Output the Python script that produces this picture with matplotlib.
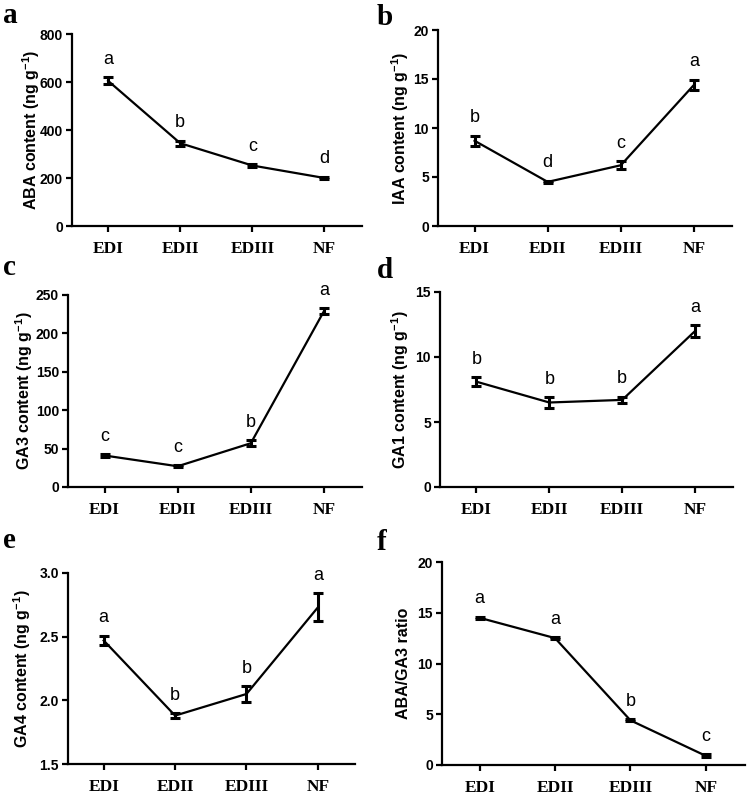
import numpy as np
import matplotlib
matplotlib.use('Agg')
import matplotlib.pyplot as plt

plt.rcParams['font.family'] = ['Liberation Sans', 'DejaVu Sans']
plt.rcParams['mathtext.fontset'] = 'custom'
plt.rcParams['mathtext.rm'] = 'Liberation Sans:bold'
plt.rcParams['mathtext.default'] = 'rm'

stages = ['EDI', 'EDII', 'EDIII', 'NF']

aba = [605, 345, 252, 200]
aba_err = [15, 10, 5, 4]
aba_sig = ['a', 'b', 'c', 'd']

iaa = [8.7, 4.5, 6.2, 14.4]
iaa_err = [0.5, 0.12, 0.4, 0.5]
iaa_sig = ['b', 'd', 'c', 'a']

ga3 = [41, 27, 57, 229]
ga3_err = [1.5, 1.5, 4, 4]
ga3_sig = ['c', 'c', 'b', 'a']

ga1 = [8.1, 6.5, 6.7, 12.0]
ga1_err = [0.35, 0.4, 0.25, 0.45]
ga1_sig = ['b', 'b', 'b', 'a']

ga4 = [2.47, 1.88, 2.05, 2.73]
ga4_err = [0.035, 0.02, 0.06, 0.11]
ga4_sig = ['a', 'b', 'b', 'a']

ratio = [14.5, 12.5, 4.4, 0.9]
ratio_err = [0.1, 0.1, 0.1, 0.15]
ratio_sig = ['a', 'a', 'b', 'c']

W, H = 750, 797
fig = plt.figure(figsize=(W / 100, H / 100), dpi=100)

# panel boxes in pixels: left, right, top, bottom ; ylabel offset px ; letter baseline px
panels = [
    ('a', (72, 362, 34, 226), aba, aba_err, aba_sig, 'ABA content (ng g$^{-1}$)', (0, 800), np.arange(0, 801, 200), 41, 23),
    ('b', (438, 732, 30, 226), iaa, iaa_err, iaa_sig, 'IAA content (ng g$^{-1}$)', (0, 20), np.arange(0, 21, 5), 38, 25),
    ('c', (68, 362, 295, 487), ga3, ga3_err, ga3_sig, 'GA3 content (ng g$^{-1}$)', (0, 250), np.arange(0, 251, 50), 44, 275),
    ('d', (440, 733, 292, 487), ga1, ga1_err, ga1_sig, 'GA1 content (ng g$^{-1}$)', (0, 15), np.arange(0, 16, 5), 40, 278),
    ('e', (68, 355, 573, 764), ga4, ga4_err, ga4_sig, 'GA4 content (ng g$^{-1}$)', (1.5, 3.0), [1.5, 2.0, 2.5, 3.0], 46, 548),
    ('f', (442, 745, 562, 765), ratio, ratio_err, ratio_sig, 'ABA/GA3 ratio', (0, 20), np.arange(0, 21, 5), 39, 550),
]

x = np.arange(len(stages))
for letter, (l, r, t, b), vals, errs, sig, ylab, ylim, yticks, loff, base in panels:
    ax = fig.add_axes([l / W, 1 - b / H, (r - l) / W, (b - t) / H])
    ax.errorbar(x, vals, yerr=errs, color='black', lw=1.6, elinewidth=2.2,
                capsize=3.5, capthick=2.2)
    for i, s in enumerate(sig):
        ax.annotate(s, (x[i], vals[i] + errs[i]), xytext=(0, 13),
                    textcoords='offset points', ha='center', va='center',
                    fontsize=13)
    ax.set_xlim(-0.5, 3.52)
    ax.set_ylim(*ylim)
    ax.set_yticks(yticks)
    ax.set_xticks(x)
    ax.set_xticklabels(stages, fontfamily='Liberation Serif', fontweight='bold', fontsize=12.5)
    for lab in ax.get_yticklabels():
        lab.set_fontweight('bold')
        lab.set_fontsize(10)
    ax.spines['top'].set_visible(False)
    ax.spines['right'].set_visible(False)
    ax.spines['left'].set_linewidth(1.6)
    ax.spines['bottom'].set_linewidth(1.6)
    ax.tick_params(axis='both', width=1.6, length=4.5, pad=2)
    ax.tick_params(axis='x', pad=6)
    ax.set_ylabel(ylab, fontsize=11.5, fontweight='bold')
    ax.yaxis.set_label_coords(-loff / (r - l), 0.5)
    ax.yaxis.label.set_verticalalignment('center')
    fig.text((3 if l < 300 else 377) / W, 1 - base / H, letter,
             fontfamily='Liberation Serif', fontweight='bold', fontsize=21,
             va='baseline', ha='left')

fig.savefig('out.png', dpi=100)
